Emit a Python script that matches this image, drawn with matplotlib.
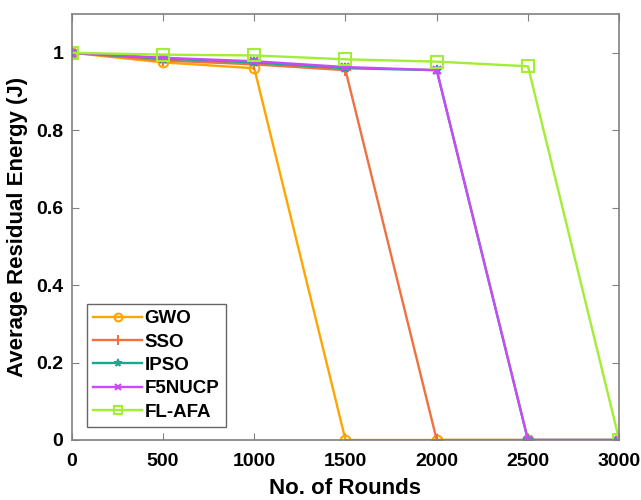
import matplotlib
matplotlib.use('Agg')
import matplotlib.pyplot as plt

plt.rcParams['font.family'] = ['Liberation Sans', 'DejaVu Sans']
plt.rcParams['font.weight'] = 'bold'

rounds = [0, 500, 1000, 1500, 2000, 2500, 3000]
gwo = [1.0, 0.975, 0.96, 0.0, 0.0, 0.0, 0.0]
sso = [1.0, 0.98, 0.97, 0.955, 0.0, 0.0, 0.0]
ipso = [1.0, 0.985, 0.975, 0.96, 0.955, 0.0, 0.0]
f5nucp = [1.0, 0.987, 0.978, 0.963, 0.955, 0.0, 0.0]
flafa = [1.0, 0.995, 0.993, 0.983, 0.977, 0.965, 0.0]

fig = plt.figure(figsize=(6.41, 5.0), dpi=100)
ax = fig.add_axes([0.112, 0.12, 0.854, 0.852])

ax.plot(rounds, gwo, color='#FFA500', marker='o', ms=7, mfc='none', mew=1.5, lw=1.7, label='GWO')
ax.plot(rounds, sso, color='#F07040', marker='+', ms=9, mew=1.5, lw=1.7, label='SSO')
ax.plot(rounds, ipso, color='#18A890', marker='*', ms=7, mew=1.2, lw=1.7, label='IPSO')
ax.plot(rounds, f5nucp, color='#CC48F8', marker='x', ms=6, mew=1.5, lw=1.7, label='F5NUCP')
ax.plot(rounds, flafa, color='#A2EE34', marker='s', ms=8, mfc='none', mew=1.5, lw=1.7, label='FL-AFA')

ax.set_xlim(0, 3000)
ax.set_ylim(0, 1.1)
ax.set_xticks(rounds)
ax.set_yticks([0, 0.2, 0.4, 0.6, 0.8, 1])
ax.set_yticklabels(['0', '0.2', '0.4', '0.6', '0.8', '1'])
ax.tick_params(direction='in', top=True, right=True, labelsize=14, color='#808080', length=5)
ax.tick_params(axis='x', pad=9)
ax.tick_params(axis='y', pad=6)
for s in ax.spines.values():
    s.set_color('#808080')
    s.set_linewidth(1.2)

ax.set_xlabel('No. of Rounds', fontsize=16, fontweight='bold', labelpad=6)
ax.set_ylabel('Average Residual Energy (J)', fontsize=16, fontweight='bold', labelpad=6)

leg = ax.legend(loc='lower left', bbox_to_anchor=(0.027, 0.03), borderaxespad=0, fontsize=13.5,
                fancybox=False, edgecolor='#404040', handlelength=2.6, handletextpad=0.15,
                borderpad=0.35, labelspacing=0.33, markerscale=0.8)
leg.get_frame().set_linewidth(1.0)

fig.savefig('out.png', dpi=100)
